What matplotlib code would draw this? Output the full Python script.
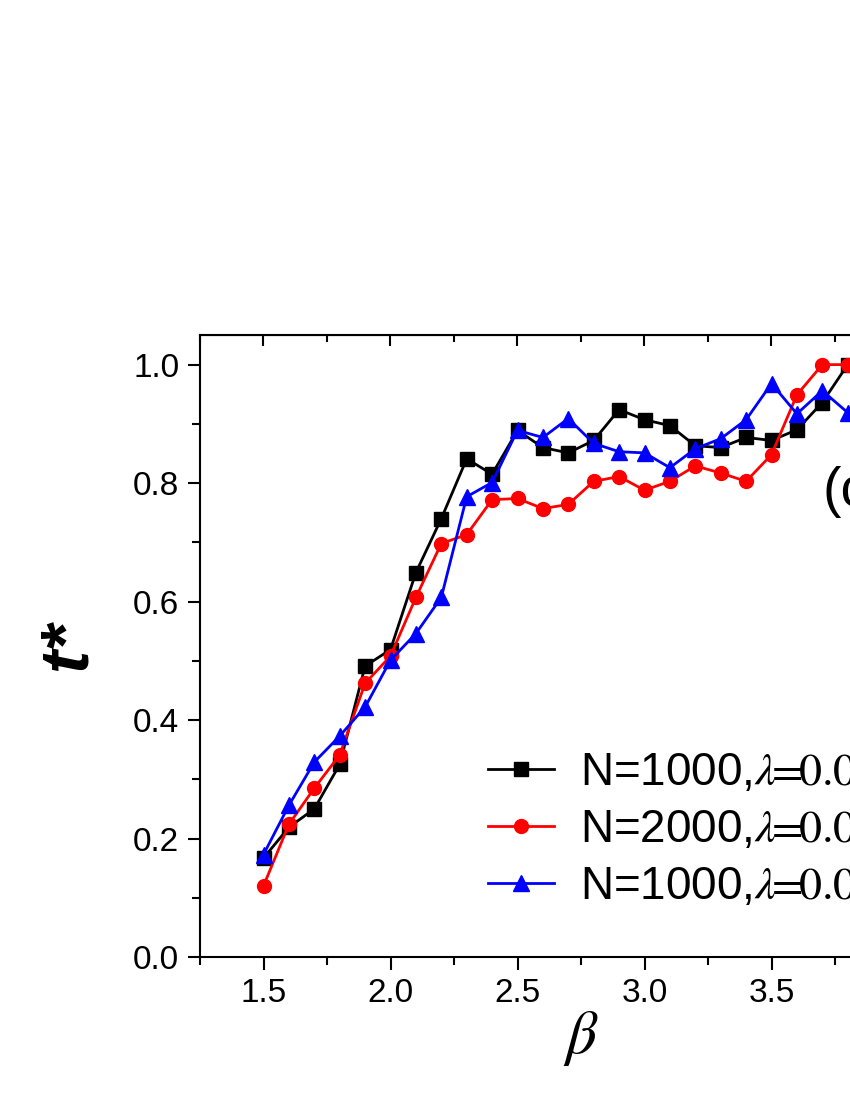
import numpy as np
import matplotlib.pyplot as plt
from matplotlib.ticker import MultipleLocator

plt.rcParams['font.family'] = ['Liberation Sans', 'DejaVu Sans']
plt.rcParams['mathtext.fontset'] = 'stix'

# Datos
beta = [1.5, 1.6, 1.7, 1.8, 1.9, 2.0, 2.1, 2.2, 2.3, 2.4, 2.5, 2.6, 2.7, 2.8,
        2.9, 3.0, 3.1, 3.2, 3.3, 3.4, 3.5, 3.6, 3.7, 3.8]
t_n1000 = [0.167, 0.219, 0.250, 0.325, 0.491, 0.519, 0.649, 0.740, 0.841, 0.815,
           0.889, 0.860, 0.851, 0.872, 0.924, 0.907, 0.897, 0.863, 0.860, 0.877,
           0.872, 0.890, 0.936, 1.000]
t_n2000 = [0.120, 0.224, 0.285, 0.341, 0.462, 0.508, 0.607, 0.698, 0.713, 0.772,
           0.774, 0.757, 0.764, 0.803, 0.811, 0.788, 0.803, 0.829, 0.817, 0.803,
           0.848, 0.949, 1.000, 1.000]
t_n1000b = [0.173, 0.256, 0.329, 0.373, 0.422, 0.501, 0.546, 0.607, 0.777, 0.801,
            0.889, 0.877, 0.909, 0.867, 0.853, 0.851, 0.826, 0.858, 0.875, 0.907,
            0.968, 0.917, 0.956, 0.919]
labels = [r'N=1000,$\lambda\!\!=\!\!\mathrm{0.01}$',
          r'N=2000,$\lambda\!\!=\!\!\mathrm{0.01}$',
          r'N=1000,$\lambda\!\!=\!\!\mathrm{0.05}$']

fig = plt.figure(figsize=(8.5, 11), dpi=100)
# el eje se extiende mas alla del borde derecho (figura recortada)
ax = fig.add_axes([200 / 850, 143 / 1100, 762 / 850, 622 / 1100])

ax.plot(beta, t_n1000, '-s', color='black', lw=2, ms=9.5, label=labels[0])
ax.plot(beta, t_n2000, '-o', color='red', lw=2, ms=10, label=labels[1])
ax.plot(beta, t_n1000b, '-^', color='blue', lw=2, ms=11, label=labels[2])

ax.set_xlim(1.25, 4.25)
ax.set_ylim(0.0, 1.05)
ax.xaxis.set_major_locator(MultipleLocator(0.5))
ax.xaxis.set_minor_locator(MultipleLocator(0.25))
ax.yaxis.set_major_locator(MultipleLocator(0.2))
ax.yaxis.set_minor_locator(MultipleLocator(0.1))
ax.xaxis.set_major_formatter(plt.FormatStrFormatter('%.1f'))
ax.yaxis.set_major_formatter(plt.FormatStrFormatter('%.1f'))

ax.tick_params(which='major', direction='out', length=9, width=1.5,
               labelsize=24, pad=6)
ax.tick_params(which='minor', direction='out', length=6, width=1.5)
for s in ax.spines.values():
    s.set_linewidth(1.5)

# ticks superiores hacia dentro
top = ax.secondary_xaxis('top')
top.xaxis.set_major_locator(MultipleLocator(0.5))
top.xaxis.set_minor_locator(MultipleLocator(0.25))
top.tick_params(which='major', direction='in', length=8, width=1.5, labeltop=False)
top.tick_params(which='minor', direction='in', length=5, width=1.5)

ax.set_xlabel(r'$\beta$', fontsize=44, labelpad=0)
ax.set_ylabel('t*', fontsize=50, fontweight='bold', style='italic', labelpad=24)

fig.text(822 / 850, (1100 - 492) / 1100, '(c)', fontsize=40, va='center', ha='left')

ax.legend(loc='center left', bbox_to_anchor=(488 / 850, (1100 - 830) / 1100),
          bbox_transform=fig.transFigure, frameon=False, fontsize=33,
          numpoints=1, handlelength=1.45, handletextpad=0.55, labelspacing=0.28,
          borderpad=0, borderaxespad=0)

fig.savefig('out.png', dpi=100)
